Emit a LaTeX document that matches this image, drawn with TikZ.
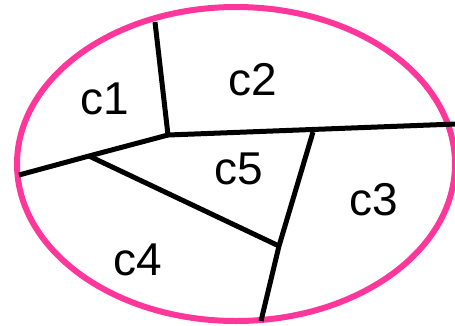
\documentclass[tikz,border=0pt]{standalone}
\usepackage{fontspec}
\setmainfont{Liberation Sans}
\definecolor{rim}{RGB}{255,55,155}
\begin{document}
\begin{tikzpicture}[x=1pt,y=-1pt,
  wall/.style={line width=5pt,black,line join=miter},
  cell/.style={inner sep=0pt,font=\fontsize{46}{46}\selectfont}]
\useasboundingbox (0,0) rectangle (455,325);
\draw[rim,line width=6pt] (236,164) ellipse [x radius=219, y radius=157];
\coordinate (A) at (155,22);
\coordinate (B) at (168,135);
\coordinate (C) at (456,124);
\coordinate (D) at (313,132);
\coordinate (E) at (279,246);
\coordinate (F) at (261,321);
\coordinate (G) at (19,175);
\coordinate (H) at (89,156);
\draw[wall] (A) -- (B) -- (C);
\draw[wall] (G) -- (H) -- (B);
\draw[wall] (H) -- (E);
\draw[wall] (D) -- (E) -- (F);
\node[cell] (c1) at (105,99) {c1};
\node[cell] (c2) at (253,80) {c2};
\node[cell] (c5) at (239,169) {c5};
\node[cell] (c3) at (374,200) {c3};
\node[cell] (c4) at (138,260) {c4};
\end{tikzpicture}
\end{document}
